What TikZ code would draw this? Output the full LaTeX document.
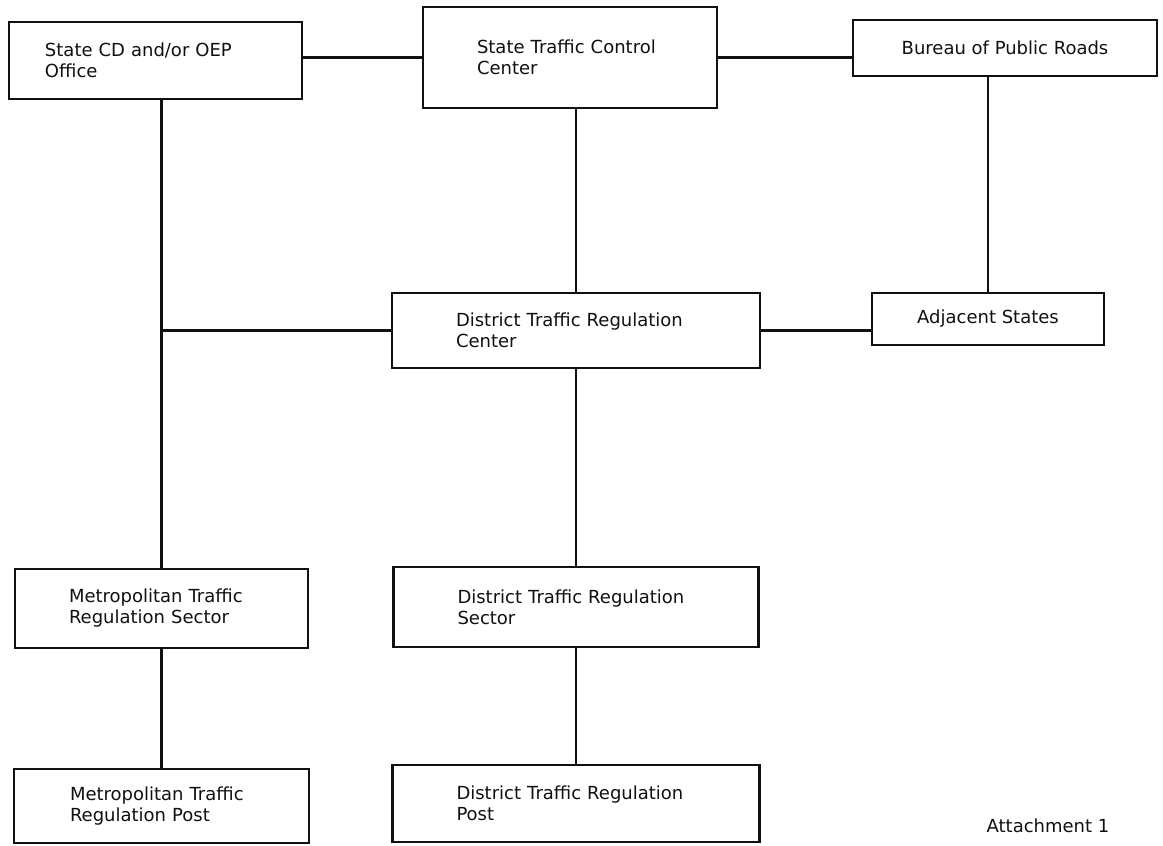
\documentclass[tikz,border=0pt]{standalone}
\usepackage{fontspec}
\setmainfont{DejaVu Sans}
\usepackage{tikz}
\usetikzlibrary{positioning}
\usepackage{xcolor}
\definecolor{ink}{HTML}{111111}
\tikzset{
  every node/.style={font=\fontsize{9}{10.5}\selectfont,text=ink},
  unit/.style={draw=ink,line width=1.3pt,fill=white,align=left,inner ysep=2pt,outer sep=0pt},
  midunit/.style={unit,align=center},
  link/.style={draw=ink,line width=1.3pt},
}

\begin{document}
\begin{tikzpicture}[x=0.5pt,y=-0.5pt]
\useasboundingbox (0,0) rectangle (1163,846);

% top row
\node[unit,inner xsep=18pt,text width=110.5pt,minimum height=38.5pt] (office) at (155.5,60.5)
{State CD and/or OEP\\Office};
\node[unit,inner xsep=27pt,text width=93pt,minimum height=50.5pt,right=60.5pt of office,yshift=1.5pt] (stcc)
{State Traffic Control\\Center};
\node[midunit,minimum width=152pt,minimum height=28pt,right=68pt of stcc,yshift=4.75pt] (bpr)
{Bureau of Public Roads};

% district level
\node[unit,inner xsep=32pt,text width=120pt,minimum height=37.5pt,below=92.5pt of stcc,xshift=3pt] (dtrc)
{District Traffic Regulation\\Center};
\node[midunit,minimum width=116pt,minimum height=26pt,right=56pt of dtrc,yshift=5.75pt] (adj)
{Adjacent States};

% sectors and posts
\node[unit,inner xsep=27pt,text width=92.5pt,minimum height=39.5pt,below=235pt of office,xshift=3pt] (mtrs)
{Metropolitan Traffic\\Regulation Sector};
\node[unit,inner xsep=32pt,text width=118.5pt,minimum height=40pt,below=99.5pt of dtrc] (dtrs)
{District Traffic Regulation\\Sector};
\node[unit,inner xsep=28pt,text width=91.5pt,minimum height=37pt,below=60.5pt of mtrs] (mtrp)
{Metropolitan Traffic\\Regulation Post};
\node[unit,inner xsep=32pt,text width=119.5pt,minimum height=38.5pt,below=59pt of dtrs] (dtrp)
{District Traffic Regulation\\Post};

\node (attach) at (1048,826) {Attachment 1};

% connectors
\draw[link] (stcc.west) -- (stcc.west -| office.east);
\draw[link] (stcc.east) -- (stcc.east -| bpr.west);
\draw[link] (adj.north) -- (adj.north |- bpr.south);
\draw[link] (dtrc.north) -- (dtrc.north |- stcc.south);
\draw[link] (mtrs.north) -- (mtrs.north |- office.south);
\draw[link] (dtrc.west) -- (dtrc.west -| mtrs.north);
\draw[link] (dtrc.east) -- (dtrc.east -| adj.west);
\draw[link] (dtrc) -- (dtrs);
\draw[link] (mtrs) -- (mtrp);
\draw[link] (dtrs) -- (dtrp);

\end{tikzpicture}
\end{document}
